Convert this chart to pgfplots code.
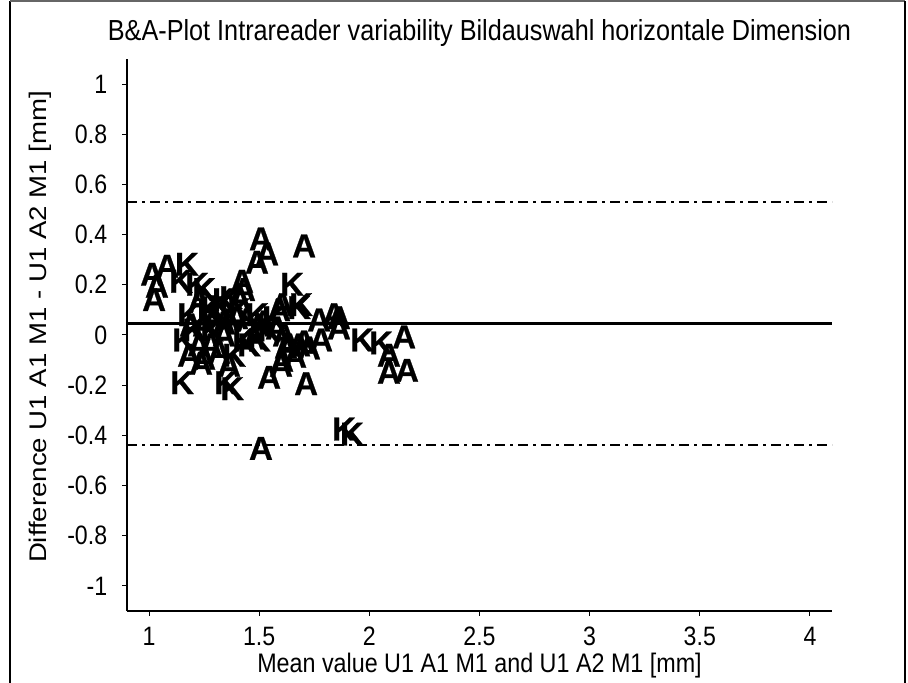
\documentclass[border=0pt]{standalone}
\usepackage{pgfplots}
\pgfplotsset{compat=1.18}
\usepackage{fontspec}
\setmainfont{Liberation Sans}
\newfontfamily\markfont[FakeBold=0.7]{Liberation Sans Bold}
\begin{document}
\begin{tikzpicture}
\useasboundingbox (0,0) rectangle (454pt,341.5pt);
\draw[line width=1pt] (5pt,-3pt) -- (5pt,341pt);
\draw[line width=0.8pt, black!60] (5pt,341pt) -- (452.5pt,341pt);
\draw[line width=1pt] (452.5pt,341pt) -- (452.5pt,-3pt);
\begin{axis}[
  at={(63.5pt,36pt)}, anchor=south west,
  width=352.5pt, height=276pt, scale only axis,
  xmin=0.9, xmax=4.1, ymin=-1.1, ymax=1.1,
  axis x line*=bottom, axis y line*=left,
  axis line style={line width=0.6pt},
  tick align=outside, major tick length=2.5pt,
  tick style={black, line width=0.5pt},
  xtick={1,1.5,2,2.5,3,3.5,4},
  xticklabels={1,1.5,2,2.5,3,3.5,4},
  ytick={-1,-0.8,-0.6,-0.4,-0.2,0,0.2,0.4,0.6,0.8,1},
  yticklabels={-1,-0.8,-0.6,-0.4,-0.2,0,0.2,0.4,0.6,0.8,1},
  tick label style={font=\fontsize{13.3}{15}\selectfont, xscale=0.87},
  yticklabel style={xshift=-5pt},
  xticklabel style={yshift=-2pt},
  title={B\&A-Plot Intrareader variability Bildauswahl horizontale Dimension},
  every axis title/.style={at={(axis description cs:0.5,1.047)}, anchor=center, xscale=0.87, font=\fontsize{14.5}{16}\selectfont},
  xlabel={Mean value U1 A1 M1 and U1 A2 M1 [mm]},
  every axis x label/.style={at={(axis description cs:0.5,-0.099)}, anchor=center, xscale=0.87, font=\fontsize{13.4}{15}\selectfont},
  ylabel={Difference U1 A1 M1 - U1 A2 M1 [mm]},
  every axis y label/.style={at={(axis description cs:-0.1234,0.5145)}, anchor=center, xscale=0.87, rotate=90, font=\fontsize{13.8}{15}\selectfont},
  clip=false,
]
\addplot[black, line width=1.5pt] coordinates {(0.9,0.045) (4.1,0.045)};
\addplot[black, line width=1.1pt, dash pattern=on 5pt off 2.5pt on 1.5pt off 2.5pt] coordinates {(0.9,0.53) (4.1,0.53)};
\addplot[black, line width=1.1pt, dash pattern=on 5pt off 2.5pt on 1.5pt off 2.5pt] coordinates {(0.9,-0.44) (4.1,-0.44)};
% A points
\addplot[draw=none, mark=none, nodes near coords={A},
  nodes near coords style={anchor=center, inner sep=0pt, font=\fontsize{16.5}{17}\markfont}] coordinates {
(1.014,0.242) (1.036,0.194) (1.023,0.141) (1.082,0.274)
(1.227,0.133) (1.295,0.069) (1.363,0.060) (1.445,0.060) (1.522,0.052)
(1.422,0.214) (1.431,0.181) (1.508,0.383) (1.536,0.323) (1.490,0.290)
(1.704,0.355) (1.604,0.121) (1.590,0.101) (1.772,0.060) (1.840,0.081)
(1.862,0.069) (1.862,0.028) (1.781,-0.020) (1.704,-0.028) (1.726,-0.052)
(1.681,-0.040) (1.613,0.000) (1.622,-0.048) (1.604,-0.101) (1.599,-0.121)
(1.545,-0.169) (1.713,-0.194) (2.158,-0.008) (2.089,-0.081) (2.089,-0.149)
(2.171,-0.141) (1.508,-0.452) (1.182,-0.081) (1.250,-0.093) (1.227,-0.040)
(1.281,-0.040) (1.318,-0.069) (1.340,0.000) (1.477,-0.012) (1.363,-0.121)
(1.236,-0.113) (1.499,0.040) (1.581,0.028) (1.635,-0.040) (1.409,0.149)
(1.191,0.040) (1.250,0.040) (1.340,0.048) (1.663,-0.085) (1.399,0.069)
};
% K points
\addplot[draw=none, mark=none, nodes near coords={K},
  nodes near coords style={anchor=center, inner sep=0pt, font=\fontsize{16.5}{17}\markfont}] coordinates {
(1.172,0.282) (1.145,0.214) (1.218,0.202) (1.250,0.181) (1.182,0.081)
(1.150,-0.190) (1.350,-0.190) (1.377,-0.214) (1.272,0.101) (1.327,0.113)
(1.409,0.101) (1.490,0.081) (1.567,0.069) (1.649,0.202) (1.681,0.109)
(1.967,-0.020) (2.053,-0.032) (1.885,-0.375) (1.921,-0.395) (1.159,-0.020)
(1.204,0.020) (1.386,-0.081) (1.431,-0.020) (1.454,-0.040) (1.286,0.020)
(1.545,0.020) (1.372,0.149) (1.286,0.109) (1.340,0.141) (1.499,-0.020)
(1.690,0.121)
};
\end{axis}
\end{tikzpicture}
\end{document}
